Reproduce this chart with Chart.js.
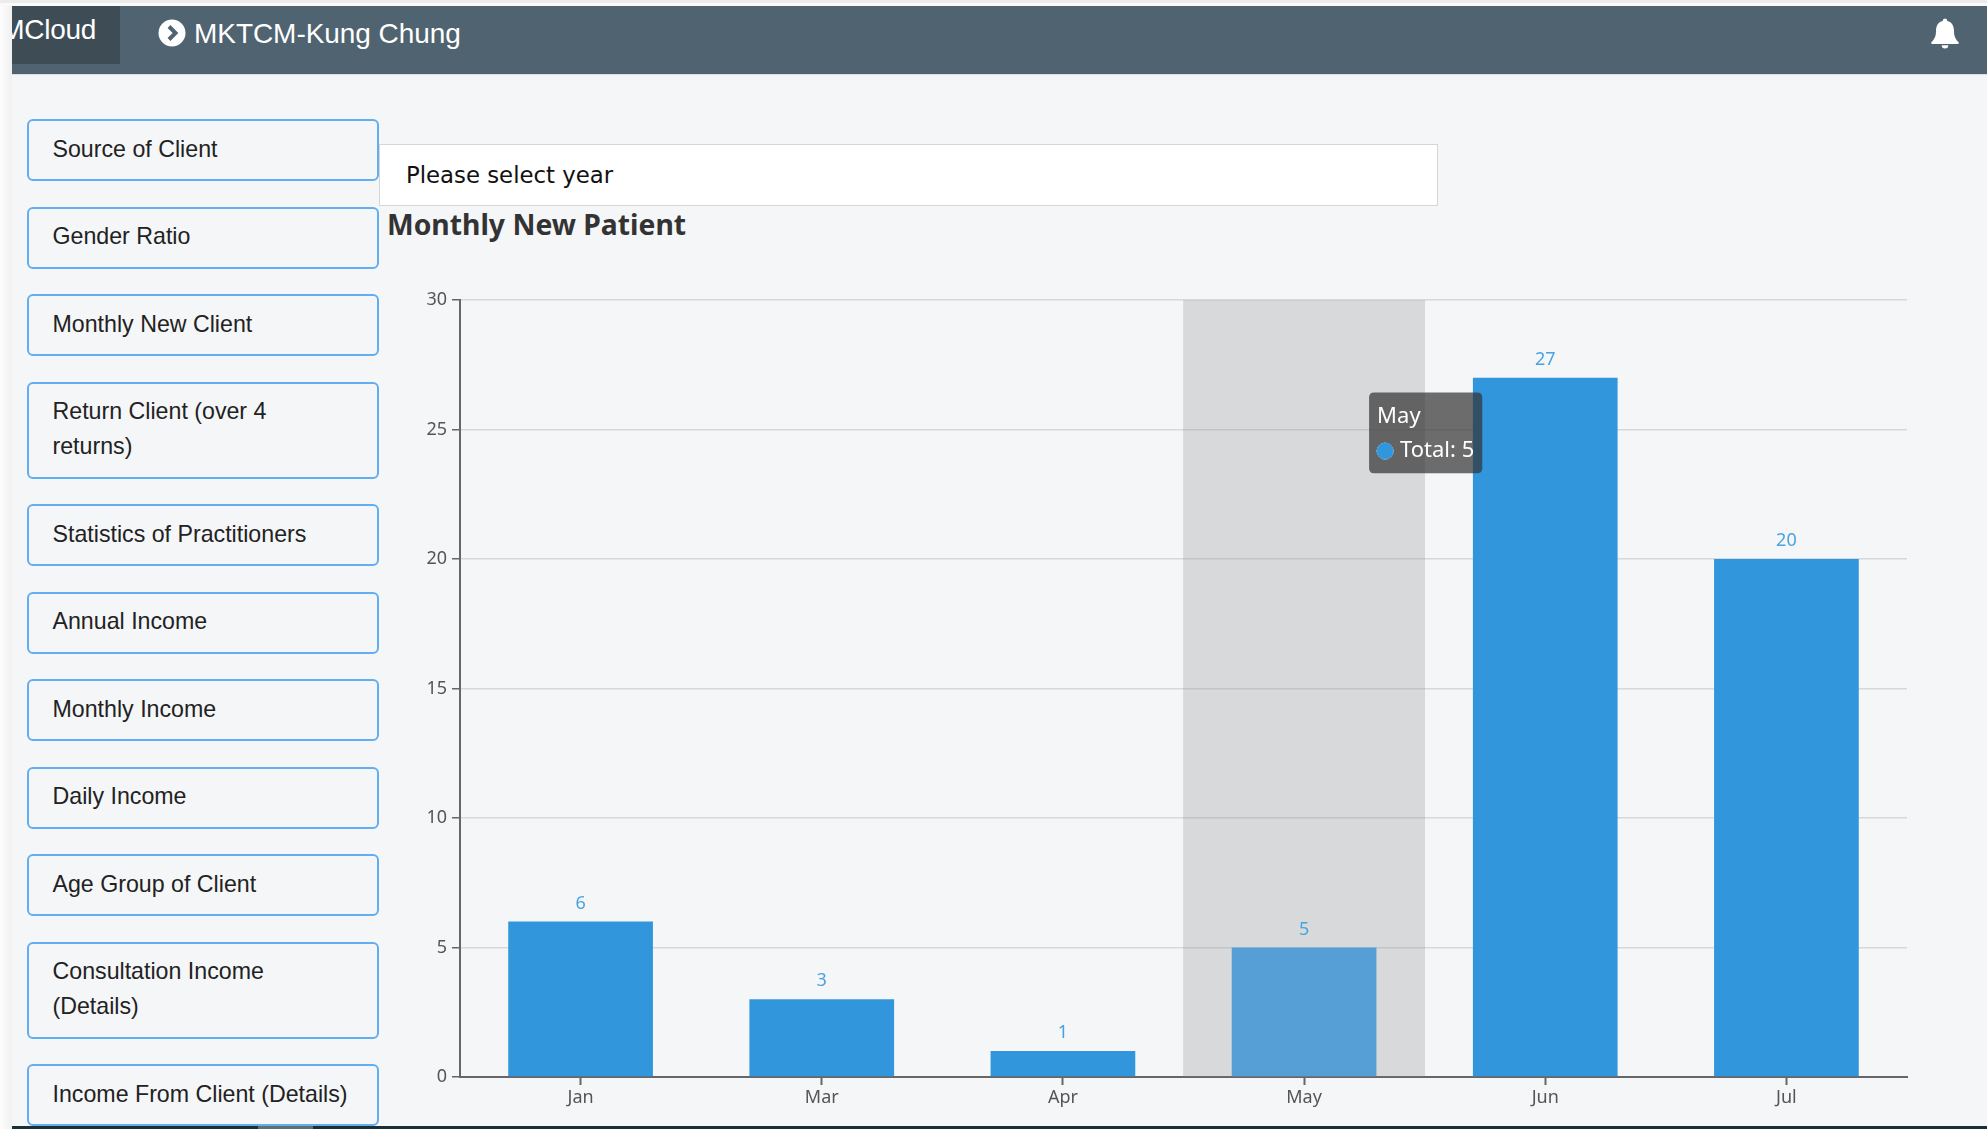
<!DOCTYPE html>
<html>
<head>
<meta charset="utf-8">
<script src="https://cdn.jsdelivr.net/npm/chart.js@4"></script>
<style>
html,body{margin:0;padding:0;width:1987px;height:1129px;overflow:hidden;background:#f5f6f8;font-family:"Liberation Sans",Arial,sans-serif;}
#leftEdge{position:absolute;left:0;top:0;width:12px;height:1129px;background:linear-gradient(to right,#fdfdfd,#f0f0f0);}
#topEdge{position:absolute;left:0;top:0;width:1987px;height:3px;background:#ececec;}
#topEdge2{position:absolute;left:0;top:3px;width:1987px;height:3px;background:#fafafa;}
#header{position:absolute;left:12px;top:6px;width:1975px;height:68px;background:#4f6370;border-bottom:1px solid #dcdfe2;box-sizing:content-box;}
#brand{position:absolute;left:0;top:0;width:108px;height:58px;background:#3d4c55;overflow:hidden;}
#brand span{position:absolute;right:24px;top:8px;font-size:28px;line-height:32px;color:#fff;white-space:nowrap;letter-spacing:-.3px;}
#clinic{position:absolute;left:182px;top:9.5px;font-size:28px;line-height:36px;color:#fff;white-space:nowrap;letter-spacing:-.05px;}
#arrow{position:absolute;left:146px;top:13px;}
#bell{position:absolute;left:1917px;top:11px;}
#side{position:absolute;left:27px;top:119px;width:352px;}
#side div{box-sizing:border-box;width:352px;border:2px solid #62aef0;border-radius:6px;padding:10.5px 23.5px 12.5px;margin-bottom:25.5px;font-size:23.2px;line-height:35px;color:#222;white-space:pre-line;}
#sel{position:absolute;left:379px;top:144px;width:1059px;height:62px;box-sizing:border-box;background:#fff;border:1.5px solid #d6d6d6;font-family:"DejaVu Sans",sans-serif;font-size:22.8px;line-height:60.5px;padding-left:26px;color:#111;}
#title{position:absolute;left:387px;top:204px;font-family:"Noto Sans",sans-serif;font-weight:700;font-size:28.3px;line-height:40px;color:#333;white-space:nowrap;}
#wrap{position:absolute;left:400px;top:270px;width:1560px;height:855px;}
#foot{position:absolute;left:12px;top:1126px;width:1975px;height:3px;background:#1c2f37;}
#thumb{position:absolute;left:246px;top:0;width:55px;height:3px;background:#5f6f76;}
</style>
</head>
<body>
<div id="leftEdge"></div><div id="topEdge"></div><div id="topEdge2"></div>
<div id="header">
  <div id="brand"><span>MCloud</span></div>
  <svg id="arrow" width="28" height="28" viewBox="0 0 28 28"><circle cx="14" cy="14" r="13.5" fill="#fff"/><path d="M11 7.5 L17.5 14 L11 20.5" fill="none" stroke="#4f6370" stroke-width="4"/></svg>
  <div id="clinic">MKTCM-Kung Chung</div>
  <svg id="bell" width="32" height="32" viewBox="0 0 32 32"><path d="M16 1.5a2.4 2.4 0 0 1 2.3 2.5C23 5.2 25 9 25 14c0 6 2 8.5 4.6 11.2.5.6.2 1.8-.8 1.8H3.2c-1 0-1.3-1.2-.8-1.8C5 22.5 7 20 7 14c0-5 2-8.8 6.7-10A2.4 2.4 0 0 1 16 1.5z M12.7 28.2h6.6a3.3 3.3 0 0 1-6.6 0z" fill="#fff"/></svg>
</div>
<div id="side"></div>
<div id="sel">Please select year</div>
<div id="title">Monthly New Patient</div>
<div id="wrap"><canvas id="c" width="1560" height="855"></canvas></div>
<div id="foot"><div id="thumb"></div></div>
<script>
const sidebarItems = ["Source of Client","Gender Ratio","Monthly New Client","Return Client (over 4\nreturns)","Statistics of Practitioners","Annual Income","Monthly Income","Daily Income","Age Group of Client","Consultation Income\n(Details)","Income From Client (Details)"];
const categories = ["Jan","Mar","Apr","May","Jun","Jul"];
const totals = [6,3,1,5,27,20];
const highlightBand = [null,null,null,30,null,null];
const barColors = ["#3296dc","#3296dc","#3296dc","#569fd6","#3296dc","#3296dc"];
const seriesName = "Total";
const activeIndex = 3;

const side = document.getElementById("side");
sidebarItems.forEach(t => { const d = document.createElement("div"); d.textContent = t; side.appendChild(d); });

Chart.Tooltip.positioners.pinned = function(items){
  const x = this.chart.scales.x, y = this.chart.scales.y;
  return {x: x.getPixelForValue(activeIndex) + 66 + 4, y: y.getPixelForValue(25) - 37};
};
const valueLabels = {
  id:"valueLabels",
  afterDatasetsDraw(chart){
    const meta = chart.getDatasetMeta(1), ctx = chart.ctx;
    ctx.save();
    ctx.font = '18px "Noto Sans"';
    ctx.fillStyle = "#4aa3e0";
    ctx.textAlign = "center";
    ctx.textBaseline = "bottom";
    meta.data.forEach((el,i) => ctx.fillText(String(totals[i]), el.x, el.y - 9));
    ctx.restore();
  }
};
const chart = new Chart(document.getElementById("c"), {
  type:"bar",
  data:{labels:categories,datasets:[
    {label:"band",data:highlightBand,backgroundColor:"rgba(150,150,150,0.3)",barPercentage:1,categoryPercentage:1,grouped:false,order:2},
    {label:seriesName,data:totals,backgroundColor:barColors,barPercentage:0.6,categoryPercentage:1,grouped:false,order:1}
  ]},
  options:{
    responsive:false,animation:false,
    events:[],
    layout:{padding:{left:0,top:30,right:53,bottom:0}},
    plugins:{
      legend:{display:false},
      tooltip:{
        enabled:true,position:"pinned",xAlign:"left",yAlign:"top",caretSize:0,caretPadding:0,cornerRadius:5,
        backgroundColor:"rgba(50,50,50,0.7)",displayColors:true,usePointStyle:true,boxWidth:16,boxHeight:16,boxPadding:5,
        padding:{left:8,right:8,top:11,bottom:9},
        titleFont:{family:"Noto Sans",size:22,weight:"normal"},bodyFont:{family:"Noto Sans",size:22},
        titleColor:"#fff",bodyColor:"#fff",titleMarginBottom:8,
        filter:it=>it.datasetIndex===1,
        callbacks:{
          label:c=>c.dataset.label+": "+c.parsed.y,
          labelPointStyle:()=>({pointStyle:"circle",rotation:0}),
          labelColor:()=>({backgroundColor:"#3296dc",borderColor:"#3296dc",borderWidth:0})
        }
      }
    },
    scales:{
      x:{
        grid:{offset:false,drawOnChartArea:false,tickLength:8,tickColor:"#666",tickWidth:2},
        border:{color:"#666",width:2},
        ticks:{color:"#555",font:{family:"Noto Sans",size:18},padding:2.5,maxRotation:0},
        afterFit(s){s.height=48;}
      },
      y:{
        min:0,max:30,
        grid:{color:"#d6d8db",lineWidth:1.5,tickLength:8,tickColor:"#666",tickWidth:1.5},
        border:{color:"#666",width:2},
        ticks:{color:"#555",font:{family:"Noto Sans",size:18},stepSize:5,padding:5},
        afterFit(s){s.width=60;}
      }
    }
  },
  plugins:[valueLabels]
});
chart.tooltip.setActiveElements([{datasetIndex:1,index:activeIndex}],{x:0,y:0});
chart.update();
</script>
</body>
</html>
